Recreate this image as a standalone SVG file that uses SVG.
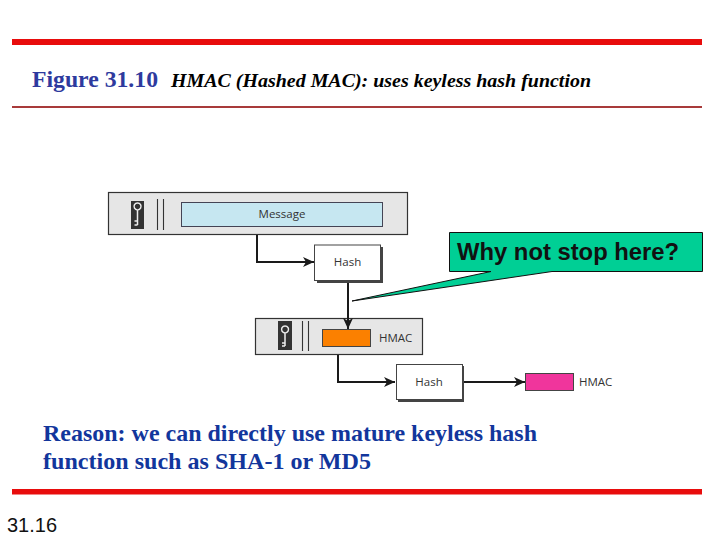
<svg xmlns="http://www.w3.org/2000/svg" width="720" height="540" viewBox="0 0 720 540">
<style>
.sans{font-family:"Liberation Sans",Arial,sans-serif}
.serif{font-family:"Liberation Serif","Times New Roman",serif}
.lbl{font-family:"Open Sans","Liberation Sans",sans-serif;font-size:11.5px;fill:#333}
.panel{fill:#e6e6e6;stroke:#333;stroke-width:1.2}
.box{fill:#fff;stroke:#444;stroke-width:1}
.shadow{fill:#444}
.conn{fill:none;stroke:#1a1a1a;stroke-width:2}
.key{fill:#333}
.keyg{fill:none;stroke:#eee;stroke-width:1.5}
.bar{stroke:#333;stroke-width:1.1}
</style>
<defs>
<marker id="arr" markerUnits="userSpaceOnUse" markerWidth="12" markerHeight="10" refX="11" refY="5" orient="auto">
<path d="M0 0L11 5L0 10L3 5Z" fill="#1a1a1a"/>
</marker>
</defs>
<rect width="720" height="540" fill="#fff"/>
<rect x="12" y="39" width="690" height="6" fill="#e80c0c"/>
<rect x="12" y="106" width="690" height="2" fill="#a83a3a"/>
<rect x="12" y="489" width="690" height="5.500" fill="#e80c0c"/>
<text class="serif" x="32" y="87" font-size="23" font-weight="700" fill="#2e3a9e" textLength="126" lengthAdjust="spacingAndGlyphs">Figure 31.10</text>
<text class="serif" x="171" y="87" font-size="19" font-weight="700" font-style="italic" fill="#000" textLength="420" lengthAdjust="spacingAndGlyphs">HMAC (Hashed MAC): uses keyless hash function</text>

<g id="node-message">
<rect class="panel" x="108.500" y="192.500" width="299" height="42"/>
<rect class="key" x="131" y="201" width="13" height="28"/>
<path class="keyg" d="M137.500 210a3.500 3.500 0 1 1 .1 0M137.500 210V225M137.500 221H134.500M137.500 225H134.500"/>
<path class="bar" d="M157.500 199V230M163.500 199V230"/>
<rect x="181.500" y="202.500" width="201" height="24" fill="#c6e7f1" stroke="#445"/>
<text class="lbl" x="282" y="218" text-anchor="middle">Message</text>
</g>

<g id="node-hash-1">
<rect class="shadow" x="317" y="247" width="66" height="36"/>
<rect class="box" x="314.500" y="245" width="66" height="35.500"/>
<text class="lbl" x="347.500" y="266" text-anchor="middle">Hash</text>
</g>

<g id="node-hmac-keyed">
<rect class="panel" x="255.500" y="318.500" width="167" height="36"/>
<rect class="key" x="278" y="321" width="14" height="29"/>
<path class="keyg" d="M285 333a3.500 3.500 0 1 1 .1 0M285 333V346M285 343H282M285 346H282"/>
<path class="bar" d="M302.500 321V351M308.500 321V351"/>
<rect x="322.500" y="329.500" width="48" height="17" fill="#fb8000" stroke="#444"/>
<text class="lbl" x="379" y="342">HMAC</text>
</g>

<g id="node-hash-2">
<rect class="shadow" x="398" y="366" width="66" height="36"/>
<rect class="box" x="396.500" y="364.500" width="66" height="35"/>
<text class="lbl" x="429" y="385.500" text-anchor="middle">Hash</text>
</g>

<g id="node-hmac-out">
<rect x="525.500" y="373.500" width="48" height="17" fill="#f0359c" stroke="#444"/>
<text class="lbl" x="579" y="385.500">HMAC</text>
</g>

<g id="connectors">
<path class="conn" d="M257 235V262H314" marker-end="url(#arr)"/>
<path class="conn" d="M348 283V329" marker-end="url(#arr)"/>
<path class="conn" d="M338 355V382H395" marker-end="url(#arr)"/>
<path class="conn" d="M464 382H525" marker-end="url(#arr)"/>
</g>

<g id="callout">
<path d="M449.500 232.500H702.500V271.500H552L352 301L491 271.500H449.500Z" fill="#00cf95" stroke="#111" stroke-width="1"/>
<text class="sans" x="457" y="260" font-size="23.800" font-weight="700" fill="#111">Why not stop here?</text>
</g>

<text class="serif" font-size="22.500" font-weight="700" fill="#12369c"><tspan x="43" y="441" textLength="494" lengthAdjust="spacingAndGlyphs">Reason: we can directly use mature keyless hash</tspan></text>
<text class="serif" font-size="22.500" font-weight="700" fill="#12369c"><tspan x="43" y="469" textLength="328" lengthAdjust="spacingAndGlyphs">function such as SHA-1 or MD5</tspan></text>
<text class="sans" x="7" y="532" font-size="20.500" fill="#111" textLength="50" lengthAdjust="spacingAndGlyphs">31.16</text>
</svg>
